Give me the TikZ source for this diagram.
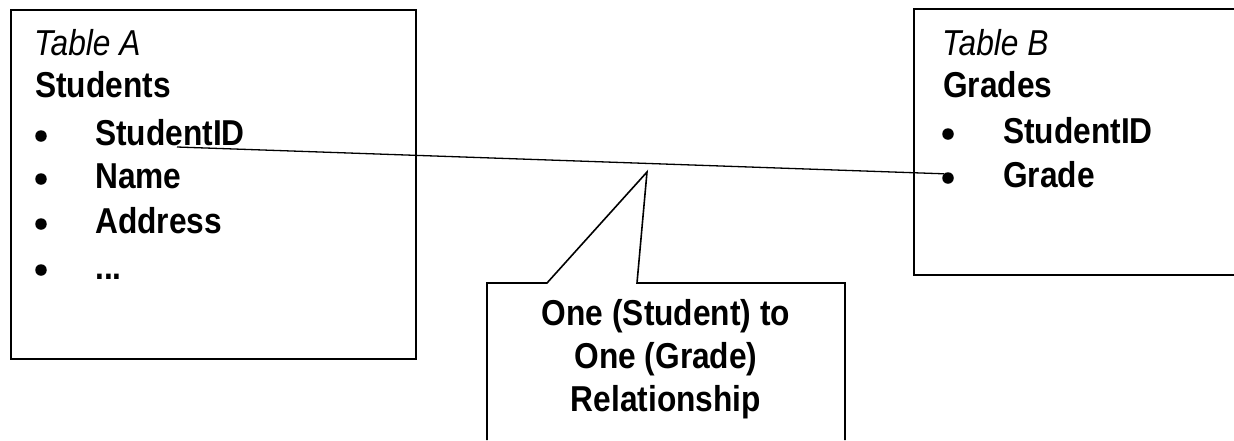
\documentclass[tikz,border=0pt]{standalone}
\usepackage{fontspec}
\setmainfont{Liberation Sans}[FakeStretch=0.88]
\usepackage{tikz}
\usetikzlibrary{positioning}
\tikzset{
  % table frame
  tblbox/.style={rectangle, draw, line width=1.6pt, inner sep=0pt,
                 minimum width=405pt, minimum height=349pt},
  % open outline (frame cut by the page edge)
  frame/.style={line width=1.6pt},
  % italic table caption
  tcap/.style={anchor=base west, inner sep=0pt, font=\fontsize{36}{43}\selectfont\itshape},
  % bold table name or field
  tname/.style={anchor=base west, inner sep=0pt, font=\fontsize{36}{43}\selectfont\bfseries},
  % list bullet
  bul/.style={circle, fill=black, inner sep=0pt, minimum size=11.5pt},
  % relation line
  rel/.style={line width=1.3pt},
  % callout text
  calltxt/.style={anchor=north, inner sep=0pt, align=center,
                  font=\fontsize{36}{43}\selectfont\bfseries},
}

\begin{document}
\begin{tikzpicture}[x=1pt, y=-1pt]
  \useasboundingbox (0,0) rectangle (1234,440);

  % Table A
  \node[tblbox, anchor=north west] (boxA) at (10,9) {};
  \node[tcap] (acap) at (34,55) {Table A};
  \node[tname] (aname) at (35,97) {Students};
  \node[tname] (af1) at (95,145) {StudentID};
  \node[tname] (af2) at (95,188) {Name};
  \node[tname] (af3) at (95,233) {Address};
  \node[tname] (af4) at (95,279) {...};
  \node[bul] (abul1) at ([xshift=-54pt, yshift=9pt]af1.base west) {};
  \node[bul] (abul2) at ([xshift=-54pt, yshift=9pt]af2.base west) {};
  \node[bul] (abul3) at ([xshift=-54pt, yshift=9pt]af3.base west) {};
  \node[bul] (abul4) at ([xshift=-54pt, yshift=9pt]af4.base west) {};

  % Table B
  \draw[frame] (1234,9) -| (914,275) -- (1234,275);
  \node[tcap] (bcap) at (942,55) {Table B};
  \node[tname] (bname) at (943,97) {Grades};
  \node[tname] (bf1) at (1003,143) {StudentID};
  \node[tname] (bf2) at (1003,187) {Grade};
  \node[bul] (bbul1) at ([xshift=-55pt, yshift=9pt]bf1.base west) {};
  \node[bul] (bbul2) at ([xshift=-55pt, yshift=9pt]bf2.base west) {};

  % relation
  \coordinate (linkA) at ([xshift=82pt, yshift=-2pt]af1.base west);
  \draw[rel] (linkA) -- (bbul2.north west);

  % callout
  \coordinate (tip) at (647,172);
  \draw[frame] (487,440) -- (487,283) -- (547,283) -- (tip) -- (637,283)
    -- (845,283) -- (845,440);
  \node[calltxt] (reltxt) at (666,299) {One (Student) to\\One (Grade)\\Relationship};
\end{tikzpicture}
\end{document}
